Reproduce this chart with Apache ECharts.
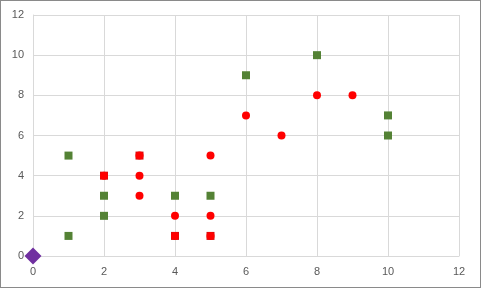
<!DOCTYPE html>
<html><head><meta charset="utf-8">
<script src="https://cdn.jsdelivr.net/npm/echarts@6/dist/echarts.min.js"></script>
<style>html,body{margin:0;padding:0;background:#fff}#c{width:481px;height:288px;box-sizing:border-box;border:1px solid #8a8a8a}</style>
</head><body><div id="c"></div>
<script>
const greenPoints = [[1,5],[1,1],[2,3],[2,2],[4,3],[5,3],[6,9],[8,10],[10,7],[10,6]];
const redSquarePoints = [[2,4],[3,5],[4,1],[5,1]];
const redCirclePoints = [[2,4],[3,5],[3,4],[3,3],[4,2],[4,1],[5,5],[5,2],[5,1],[6,7],[7,6],[8,8],[9,8]];
const purplePoints = [[0,0]];
const xTicks = [0,2,4,6,8,10,12];
const yTicks = [0,2,4,6,8,10,12];

const chart = echarts.init(document.getElementById('c'), null, {renderer:'canvas'});
const axisCommon = {
  type:'value', min:0, max:12, interval:2,
  axisLine:{show:true, lineStyle:{color:'#d9d9d9'}},
  axisTick:{show:false},
  splitLine:{show:true, lineStyle:{color:'#d9d9d9', width:1}},
  axisLabel:{color:'#595959', fontFamily:'Liberation Sans, Arial', fontSize:11}
};
chart.setOption({
  animation:false,
  grid:{left:32, right:21, top:14, bottom:31, containLabel:false},
  xAxis:Object.assign({}, axisCommon, {axisLabel:Object.assign({}, axisCommon.axisLabel, {margin:10})}),
  yAxis:Object.assign({}, axisCommon, {axisLabel:Object.assign({}, axisCommon.axisLabel, {margin:9})}),
  series:[
    {type:'scatter', data:greenPoints, symbol:'rect', symbolSize:8, itemStyle:{color:'#548235', opacity:1}},
    {type:'scatter', data:redSquarePoints, symbol:'rect', symbolSize:8, itemStyle:{color:'#d41010', opacity:1}},
    {type:'scatter', data:redCirclePoints, symbol:'circle', symbolSize:8, itemStyle:{color:'#ff0000', opacity:1}},
    {type:'scatter', data:purplePoints, symbol:'diamond', symbolSize:[17,17], itemStyle:{color:'#7030a0', opacity:1}}
  ]
});
</script></body></html>
